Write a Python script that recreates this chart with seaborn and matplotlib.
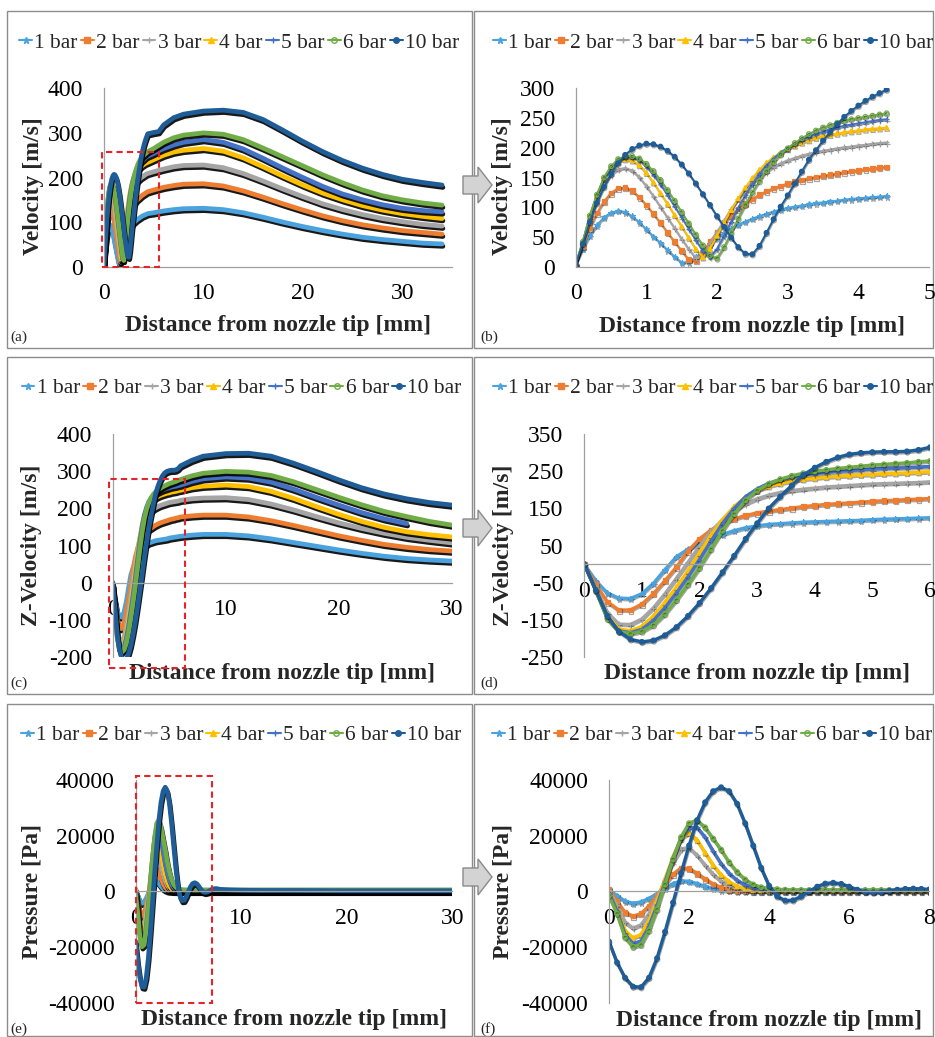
import numpy as np
import pandas as pd
import matplotlib
matplotlib.use("Agg")
import matplotlib.pyplot as plt
import matplotlib.patheffects as pe
from matplotlib.lines import Line2D
from matplotlib.patches import Rectangle, Polygon
import seaborn as sns

# ---------------- DATA ----------------
series_labels = ["1 bar", "2 bar", "3 bar", "4 bar", "5 bar", "6 bar", "10 bar"]

# Velocity magnitude [m/s]
vel_x = [0.0, 0.1, 0.2, 0.3, 0.4, 0.5, 0.6, 0.7, 0.8, 0.9, 1.0, 1.1, 1.2, 1.3, 1.4, 1.5,
         1.6, 1.7, 1.8, 1.9, 2.0, 2.1, 2.2, 2.3, 2.4, 2.5, 2.6, 2.7, 2.8, 2.9, 3.0, 3.1,
         3.2, 3.3, 3.4, 3.5, 3.6, 3.7, 3.8, 3.9, 4.0, 4.1, 4.2, 4.3, 4.4,
         5, 5.5, 6, 7, 8, 10, 12, 14, 16, 18, 20, 22, 24, 26, 28, 30, 32, 34]
vel_1bar = [3, 30, 52, 70, 83, 91, 94, 92, 85, 75, 63, 51, 40, 28, 17, 7, 8, 16, 26, 38, 48, 57, 64,
            71, 76, 81, 85, 89, 93, 96, 99, 101, 103, 105, 107, 108, 110, 111, 113, 114, 115, 116,
            117, 118, 119,
            121, 123, 125, 128, 130, 131, 128, 121, 111, 100, 90, 81, 73, 66, 61, 57, 53, 51]
vel_2bar = [3, 35, 65, 90, 110, 124, 132, 133, 128, 117, 104, 89, 74, 58, 42, 27, 12, 10, 24, 42,
            58, 73, 86, 97, 106, 114, 121, 127, 132, 136, 140, 143, 146, 149, 151, 153, 155, 157,
            159, 161, 162, 164, 165, 167, 168,
            172, 175, 178, 182, 185, 186, 181, 170, 156, 141, 127, 114, 103, 94, 87, 81, 77, 73]
vel_3bar = [4, 40, 80, 112, 138, 155, 164, 166, 162, 151, 136, 119, 101, 83, 65, 47, 30, 15, 18, 38,
            58, 78, 97, 114, 128, 140, 151, 160, 168, 174, 179, 183, 187, 190, 193, 195, 197, 199,
            201, 202, 204, 205, 207, 208, 209,
            213, 216, 219, 224, 227, 228, 222, 209, 192, 174, 157, 141, 128, 117, 108, 101, 95, 91]
vel_4bar = [4, 42, 85, 120, 148, 166, 177, 181, 179, 171, 158, 142, 124, 106, 87, 68, 49, 30, 16, 30,
            52, 74, 95, 115, 133, 149, 163, 175, 184, 192, 198, 204, 209, 213, 217, 220, 222, 224,
            226, 228, 229, 231, 232, 233, 234,
            240, 245, 250, 257, 261, 265, 259, 244, 224, 203, 183, 165, 150, 137, 127, 119, 113, 108]
vel_5bar = [4, 42, 86, 121, 149, 168, 179, 184, 184, 179, 169, 155, 139, 121, 102, 83, 64, 45, 27, 16,
            30, 52, 76, 99, 120, 139, 156, 170, 182, 192, 200, 207, 213, 218, 223, 227, 231, 234,
            237, 239, 241, 243, 245, 247, 248,
            254, 260, 265, 273, 279, 285, 279, 264, 243, 221, 200, 180, 163, 150, 139, 131, 126, 123]
vel_6bar = [4, 42, 86, 121, 150, 169, 181, 186, 186, 182, 173, 161, 146, 129, 111, 92, 73, 54, 36, 19,
            14, 33, 57, 81, 104, 125, 144, 161, 176, 189, 199, 208, 216, 223, 229, 234, 238, 242,
            245, 248, 250, 252, 254, 256, 258,
            265, 272, 279, 289, 295, 300, 297, 285, 266, 246, 226, 206, 188, 172, 159, 150, 143, 138]
vel_10bar = [4, 38, 75, 107, 134, 156, 174, 188, 198, 204, 207, 206, 202, 195, 185, 172, 157, 140,
             122, 104, 85, 67, 49, 33, 22, 21, 35, 57, 80, 101, 120, 140, 160, 180, 196, 212, 226,
             240, 252, 262, 271, 279, 286, 292, 298,
             301, 303, 318, 334, 342, 349, 351, 346, 330, 306, 281, 258, 238, 221, 207, 196, 189, 183]

# Z-velocity [m/s]
zvel_x = [0.0, 0.2, 0.4, 0.6, 0.8, 1.0, 1.2, 1.4, 1.6, 1.8, 2.0, 2.2, 2.4, 2.6, 2.8, 3.0, 3.2, 3.4,
          3.6, 3.8, 4.0, 4.2, 4.4, 4.6, 4.8, 5.0, 5.2, 5.4, 5.6, 5.8, 6.0,
          7, 8, 10, 12, 14, 16, 18, 20, 22, 24, 26, 28, 30]
zvel_1bar = [0, -45, -78, -92, -93, -80, -52, -15, 20, 40, 55, 68, 80, 90, 98, 103, 107, 109, 111,
             113, 114, 115, 116, 117, 118, 120, 121, 122, 123, 124, 125,
             128, 130, 130, 126, 118, 108, 98, 88, 79, 71, 65, 61, 58]
zvel_2bar = [0, -55, -102, -124, -124, -108, -80, -45, -8, 35, 68, 92, 110, 122, 131, 138, 143, 147,
             151, 155, 158, 161, 163, 165, 167, 169, 171, 172, 174, 175, 177,
             180, 182, 182, 177, 167, 154, 140, 126, 114, 103, 95, 89, 85]
zvel_3bar = [0, -65, -130, -162, -163, -148, -118, -80, -38, 5, 48, 88, 120, 145, 163, 176, 186, 193,
             198, 202, 205, 208, 210, 212, 214, 216, 217, 218, 219, 220, 222,
             226, 228, 229, 224, 212, 196, 178, 161, 146, 133, 122, 114, 107]
zvel_4bar = [0, -70, -140, -175, -180, -168, -140, -103, -62, -18, 30, 78, 120, 155, 181, 198, 210,
             218, 224, 229, 232, 235, 237, 239, 241, 242, 244, 245, 246, 248, 249,
             256, 260, 263, 259, 246, 227, 205, 184, 165, 149, 137, 129, 123]
zvel_5bar = [0, -72, -145, -180, -185, -176, -152, -118, -78, -35, 12, 62, 110, 150, 182, 203, 218,
             228, 235, 240, 244, 247, 250, 252, 254, 256, 258, 259, 260, 262, 263,
             273, 280, 285, 282, 271, 252, 230, 209, 189, 172, 159, np.nan, np.nan]
zvel_6bar = [0, -72, -148, -182, -188, -182, -165, -135, -97, -55, -10, 40, 90, 135, 172, 198, 216,
             229, 238, 245, 250, 254, 258, 261, 264, 267, 269, 271, 273, 276, 278,
             288, 295, 300, 298, 289, 272, 251, 230, 210, 192, 178, 165, 155]
zvel_10bar = [0, -70, -140, -182, -203, -210, -206, -192, -170, -140, -105, -65, -22, 22, 68, 110,
              150, 182, 212, 240, 260, 276, 288, 296, 300, 302, 303, 303, 304, 308, 315,
              330, 341, 348, 349, 341, 322, 300, 277, 256, 239, 226, 216, 209]

# Pressure [Pa]
pres_x = [0.0, 0.2, 0.4, 0.6, 0.8, 1.0, 1.2, 1.4, 1.6, 1.8, 2.0, 2.2, 2.4, 2.6, 2.8, 3.0, 3.2, 3.4,
          3.6, 3.8, 4.0, 4.2, 4.4, 4.6, 4.8, 5.0, 5.2, 5.4, 5.6, 5.8, 6.0, 6.2, 6.4, 6.6, 6.8, 7.0,
          7.2, 7.4, 7.6, 7.8, 8.0,
          9, 10, 12, 15, 20, 25, 30]
pres_1bar = [500, -1500, -3500, -4300, -3800, -2500, -800, 1000, 2800, 3800, 3600, 2800, 1800, 1000,
             500, 200, 100, 50, 0, 0, 0, 0, 0, 0, 0, 0, 0, 0, 0, 0, 0, 0, 0, 0, 0, 0, 0, 0, 0, 0, 0,
             0, 0, 0, 0, 0, 0, 0]
pres_2bar = [800, -3500, -7500, -8900, -8000, -5200, -1500, 2500, 6200, 8400, 8200, 6500, 4500, 2700,
             1400, 700, 300, 200, 150, 100, 100, 100, 100, 100, 100, 100, 100, 100, 100, 100, 100,
             100, 100, 100, 100, 100, 100, 100, 100, 100, 100,
             100, 100, 100, 100, 100, 100, 100]
pres_3bar = [500, -5000, -11000, -13200, -12000, -8000, -2500, 4000, 10500, 15200, 15800, 13000,
             9500, 6200, 3700, 2000, 1000, 500, 300, 200, 200, 200, 200, 200, 200, 200, 200, 200,
             200, 200, 200, 200, 200, 200, 200, 200, 200, 200, 200, 200, 200,
             200, 200, 200, 200, 200, 200, 200]
pres_4bar = [0, -6500, -14000, -16700, -15500, -10500, -3500, 4500, 12500, 19000, 21000, 18500,
             14000, 9500, 6000, 3500, 1800, 900, 500, 400, 300, 300, 300, 300, 300, 300, 300, 300,
             300, 300, 300, 300, 300, 300, 300, 300, 300, 300, 300, 300, 300,
             300, 300, 300, 300, 300, 300, 300]
pres_5bar = [-500, -7000, -15500, -18800, -17800, -12500, -5000, 3500, 12000, 19000, 22800, 23000,
             19500, 14500, 10000, 6500, 4000, 2300, 1300, 800, 500, 400, 400, 400, 400, 400, 400,
             400, 400, 400, 400, 400, 400, 400, 400, 400, 400, 400, 400, 400, 400,
             400, 400, 400, 400, 400, 400, 400]
pres_6bar = [-1500, -8000, -16500, -19900, -19200, -14000, -6500, 2500, 11500, 19500, 24500, 25600,
             23000, 19000, 15000, 10500, 7000, 4300, 2500, 1500, 1000, 800, 600, 500, 500, 500, 500,
             500, 500, 500, 500, 500, 500, 500, 500, 500, 500, 500, 500, 500, 500,
             500, 500, 500, 500, 500, 500, 500]
pres_10bar = [-18000, -25500, -31000, -34200, -34400, -31000, -24000, -14500, -4000, 6500, 16500,
              25500, 32000, 36000, 37400, 36000, 31500, 24500, 16500, 8500, 2000, -1800, -3300,
              -3200, -1800, 0, 1700, 2800, 3100, 2700, 1700, 600, -200, -400, -200, 200, 600, 900,
              1000, 900, 700,
              500, 400, 300, 300, 200, 200, 200]

# ---------------- STYLE ----------------
colors = ["#4AA3DF", "#ED7D31", "#A5A5A5", "#FFC000", "#4472C4", "#70AD47", "#1F5D98"]
markers = ["*", "s", "+", "^", "+", "o", "o"]
mfaces = ["#4AA3DF", "#ED7D31", "#A5A5A5", "#FFC000", "#4472C4", "none", "#1F5D98"]

sns.set_theme(style="white")
plt.rcParams["font.family"] = ["Liberation Serif", "DejaVu Serif"]
plt.rcParams["axes.unicode_minus"] = False


def long_df(x, cols):
    frames = []
    for lab, vals in zip(series_labels, cols):
        d = pd.DataFrame({"x": x, "value": vals, "series": lab}).dropna()
        frames.append(d)
    return pd.concat(frames, ignore_index=True)


df_vel = long_df(vel_x, [vel_1bar, vel_2bar, vel_3bar, vel_4bar, vel_5bar, vel_6bar, vel_10bar])
df_z = long_df(zvel_x, [zvel_1bar, zvel_2bar, zvel_3bar, zvel_4bar, zvel_5bar, zvel_6bar, zvel_10bar])
df_p = long_df(pres_x, [pres_1bar, pres_2bar, pres_3bar, pres_4bar, pres_5bar, pres_6bar, pres_10bar])

W, H = 935, 1037
fig = plt.figure(figsize=(W / 100, H / 100), dpi=100)


def fx(px):
    return px / W


def fy(py):
    return 1 - py / H


def add_axes(l, r, t, b):
    return fig.add_axes([fx(l), fy(b), (r - l) / W, (b - t) / H])


axa = add_axes(104, 452, 88.3, 266.7)
axb = add_axes(575.7, 929, 88.3, 266.7)
axc = add_axes(112.7, 452, 434.3, 656.7)
axd = add_axes(584.3, 930, 434.3, 656.7)
axe = add_axes(135.7, 452.3, 780, 1002.7)
axf = add_axes(609, 929.3, 780, 1002.7)

shadow_big = [pe.SimpleLineShadow(offset=(0.6, -1.7), shadow_color="black", alpha=0.9), pe.Normal()]
shadow_small = [pe.SimpleLineShadow(offset=(0.4, -1.0), shadow_color="black", alpha=0.35), pe.Normal()]


def draw(ax, df, xmax, mode):
    for i, lab in enumerate(series_labels):
        sub = df[(df["series"] == lab) & (df["x"] <= xmax + 1e-9)]
        if mode == "full":
            sns.lineplot(data=sub, x="x", y="value", ax=ax, color=colors[i], lw=3.4,
                         estimator=None, legend=False, path_effects=shadow_big,
                         solid_capstyle="round")
        elif mode == "zoomthin":
            sns.lineplot(data=sub, x="x", y="value", ax=ax, color=colors[i], lw=1.4,
                         marker=markers[i], ms=4 if markers[i] in "+*" else 3.3,
                         mfc=mfaces[i], mec=colors[i], mew=0.9,
                         estimator=None, legend=False, path_effects=shadow_small)
        else:
            sns.lineplot(data=sub, x="x", y="value", ax=ax, color=colors[i], lw=2.4,
                         marker=markers[i], ms=4 if markers[i] in "+*" else 3.3,
                         mfc=mfaces[i], mec=colors[i], mew=0.9,
                         estimator=None, legend=False, path_effects=shadow_small)


def style_axis(ax, xlim, ylim, xticks, yticks, ylabel, ylab_x, ylab_y, xlab_y):
    ax.set_xlim(*xlim)
    ax.set_ylim(*ylim)
    ax.set_xticks(xticks)
    ax.set_yticks(yticks)
    ax.set_xticklabels([str(t) for t in xticks])
    ax.set_yticklabels([str(t) for t in yticks])
    for s in ["top", "right"]:
        ax.spines[s].set_visible(False)
    ax.spines["left"].set_color("#A0A0A0")
    ax.spines["left"].set_linewidth(0.9)
    ax.spines["bottom"].set_color("#A0A0A0")
    ax.spines["bottom"].set_linewidth(0.9)
    ax.spines["bottom"].set_position(("data", 0))
    ax.tick_params(axis="both", length=0, labelsize=17, colors="black")
    ax.tick_params(axis="x", pad=12)
    ax.tick_params(axis="y", pad=15)
    ax.set_facecolor("none")
    ax.grid(False)
    ax.set_ylabel(ylabel, fontsize=17, fontweight="bold")
    ax.yaxis.set_label_coords(ylab_x, ylab_y)
    ax.yaxis.label.set_va("center")
    ax.set_xlabel("Distance from nozzle tip [mm]", fontsize=17, fontweight="bold")
    ax.xaxis.set_label_coords(0.5, xlab_y)
    ax.xaxis.label.set_va("center")


draw(axa, df_vel, 34, "full")
draw(axb, df_vel, 4.4, "zoomthin")
draw(axc, df_z, 30, "full")
draw(axd, df_z, 6, "zoom")
draw(axe, df_p, 30, "full")
draw(axf, df_p, 8, "zoom")

style_axis(axa, (0, 35), (0, 400), [0, 10, 20, 30], [0, 100, 200, 300, 400],
           "Velocity [m/s]", -0.204, 0.45, -0.33)
style_axis(axb, (0, 5), (0, 300), [0, 1, 2, 3, 4, 5], [0, 50, 100, 150, 200, 250, 300],
           "Velocity [m/s]", -0.206, 0.45, -0.336)
style_axis(axc, (0, 30), (-200, 400), [0, 10, 20, 30], [-200, -100, 0, 100, 200, 300, 400],
           "Z-Velocity [m/s]", -0.239, 0.5, -0.075)
style_axis(axd, (0, 6), (-250, 350), [0, 1, 2, 3, 4, 5, 6], [-250, -150, -50, 50, 150, 250, 350],
           "Z-Velocity [m/s]", -0.234, 0.5, -0.075)
style_axis(axe, (0, 30), (-40000, 40000), [0, 10, 20, 30], [-40000, -20000, 0, 20000, 40000],
           "Pressure [Pa]", -0.327, 0.5, -0.075)
style_axis(axf, (0, 8), (-40000, 40000), [0, 2, 4, 6, 8], [-40000, -20000, 0, 20000, 40000],
           "Pressure [Pa]", -0.33, 0.5, -0.08)

# red dashed zoom boxes
red = "#E3242B"
for ax, (x0, y0, x1, y1) in [(axa, (-0.2, -1, 5.5, 257)),
                             (axc, (-0.3, -230, 6.4, 279)),
                             (axe, (0.0, -40200, 7.2, 41400))]:
    ax.add_patch(Rectangle((x0, y0), x1 - x0, y1 - y0, fill=False, ec=red, lw=1.5,
                           ls=(0, (3, 2)), clip_on=False, zorder=5))

# panel boxes
rows = [(11, 348), (357, 694), (704, 1036)]
cols = [(7, 472), (474, 933)]
for (t, b) in rows:
    for (l, r) in cols:
        fig.add_artist(Rectangle((fx(l), fy(b)), (r - l) / W, (b - t) / H,
                                 transform=fig.transFigure, fill=False, ec="#8C8C8C", lw=1.0,
                                 zorder=0))

# block arrows
for cy in [185, 528, 877]:
    pts = [(463, cy - 9), (478, cy - 9), (478, cy - 18), (492, cy), (478, cy + 18),
           (478, cy + 9), (463, cy + 9)]
    fig.add_artist(Polygon([(fx(px), fy(py)) for px, py in pts], closed=True,
                           transform=fig.transFigure, fc="#D3D3D3", ec="#8A8A8A", lw=1.0,
                           zorder=10))

# legends
handles = [Line2D([], [], color=colors[i], lw=1.5, marker=markers[i],
                  ms=5 if markers[i] in "+*" else 4, mfc=mfaces[i], mec=colors[i], mew=1.0)
           for i in range(len(series_labels))]
leg_pos = [(239, 43), (713, 43), (241.5, 388), (713, 388), (241, 735), (712, 735)]
for (px, py) in leg_pos:
    fig.legend(handles, series_labels, loc="center", bbox_to_anchor=(fx(px), fy(py)),
               ncol=7, frameon=False, fontsize=15.5, handlelength=0.6, handletextpad=0.1,
               columnspacing=0.15, borderpad=0.0, borderaxespad=0.0)

# panel letters
for txt, (px, py) in zip(["(a)", "(b)", "(c)", "(d)", "(e)", "(f)"],
                         [(10, 337), (480, 337), (10, 683), (480, 683), (10, 1029), (480, 1029)]):
    fig.text(fx(px), fy(py), txt, fontsize=11, va="center", ha="left")

fig.savefig("out.png", dpi=100)
